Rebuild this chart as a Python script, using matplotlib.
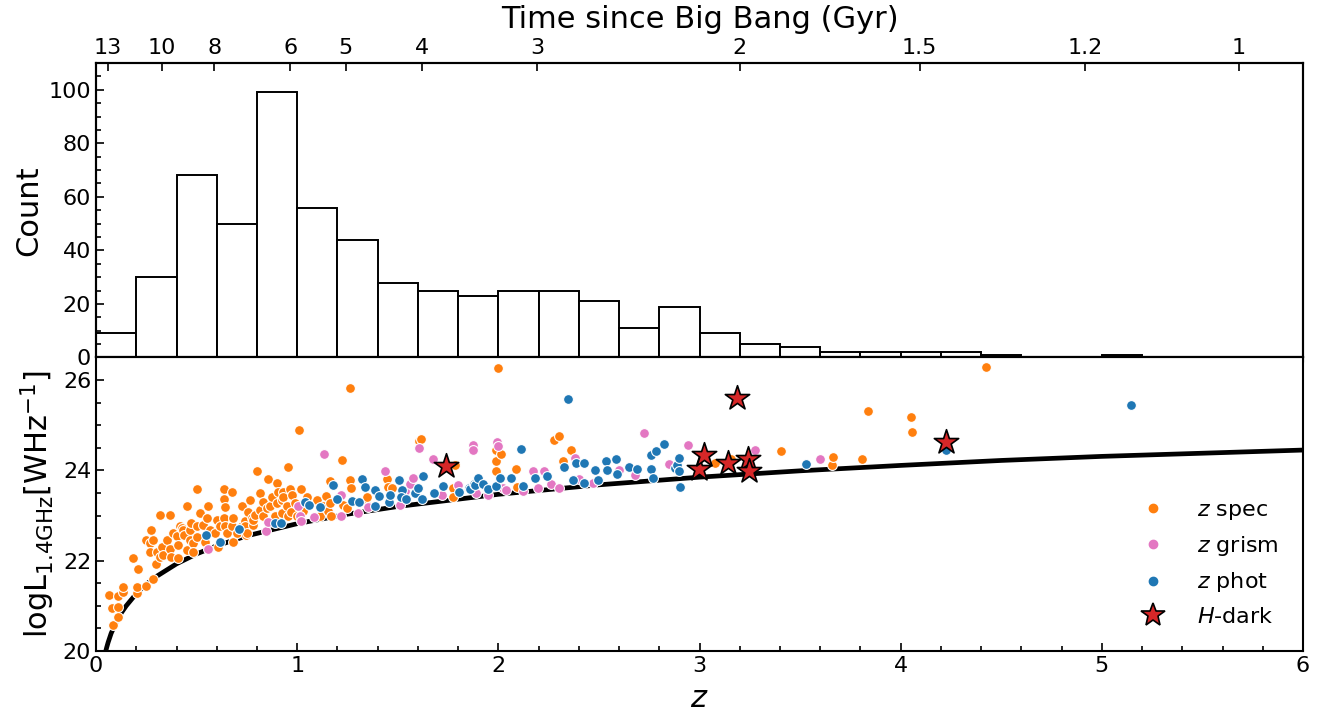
import numpy as np
import matplotlib
matplotlib.use("Agg")
import matplotlib.pyplot as plt
from matplotlib.lines import Line2D
from matplotlib.ticker import MultipleLocator, AutoMinorLocator

plt.rcParams['font.family'] = ['DejaVu Sans']
plt.rcParams['axes.linewidth'] = 1.5

# ---------------- histogram (bins of 0.2 in z) ----------------
hist_bin_lo = [0.0, 0.2, 0.4, 0.6, 0.8, 1.0, 1.2, 1.4, 1.6, 1.8, 2.0, 2.2, 2.4,
               2.6, 2.8, 3.0, 3.2, 3.4, 3.6, 3.8, 4.0, 4.2, 4.4, 4.6, 4.8, 5.0]
hist_counts = [9, 30, 68, 50, 99, 56, 44, 28, 25, 23, 25, 25, 21,
               11, 19, 9, 5, 4, 2, 2, 2, 2, 1, 0, 0, 1]
hist_width = 0.2

# ---------------- z spec ----------------
spec_z = [0.066, 0.078, 0.086, 0.111, 0.111, 0.111, 0.132, 0.136, 0.185, 0.202, 0.202, 0.207,
          0.248, 0.248, 0.268, 0.268, 0.273, 0.285, 0.285, 0.298, 0.301, 0.318, 0.318, 0.326,
          0.334, 0.351, 0.368, 0.368, 0.373, 0.384, 0.404, 0.409, 0.409, 0.417, 0.426, 0.434,
          0.437, 0.450, 0.450, 0.467, 0.467, 0.472, 0.484, 0.484, 0.500, 0.500, 0.503, 0.517,
          0.533, 0.541, 0.553, 0.558, 0.566, 0.591, 0.599, 0.608, 0.616, 0.636, 0.636, 0.639,
          0.636, 0.641, 0.649, 0.674, 0.677, 0.679, 0.682, 0.699, 0.724, 0.724, 0.740, 0.740,
          0.745, 0.748, 0.757, 0.765, 0.773, 0.782, 0.782, 0.790, 0.798, 0.815, 0.815, 0.831,
          0.831, 0.848, 0.856, 0.864, 0.873, 0.889, 0.898, 0.901, 0.906, 0.922, 0.922, 0.931,
          0.931, 0.947, 0.955, 0.955, 0.964, 0.969, 0.972, 0.989, 0.997, 1.010, 1.017, 1.030,
          1.047, 1.096, 1.113, 1.129, 1.143, 1.154, 1.162, 1.162, 1.166, 1.224, 1.229, 1.245,
          1.262, 1.263, 1.265, 1.341, 1.345, 1.444, 1.452, 1.469, 1.606, 1.613, 1.775, 1.784,
          1.775, 1.987, 1.987, 1.990, 1.997, 2.015, 2.090, 2.093, 2.275, 2.302, 2.321, 2.363,
          3.075, 3.157, 3.406, 3.656, 3.661, 3.808, 3.835, 4.051, 4.056, 4.426]
spec_L = [21.24, 20.96, 20.57, 20.76, 20.98, 21.21, 21.31, 21.42, 22.05, 21.28, 21.42, 21.81,
          22.46, 21.45, 22.40, 22.20, 22.68, 22.46, 21.59, 21.93, 22.20, 22.09, 23.02, 22.31,
          22.13, 22.46, 22.25, 23.02, 22.09, 22.61, 22.55, 22.05, 22.35, 22.76, 22.72, 22.68,
          22.57, 22.24, 23.20, 22.68, 22.46, 22.84, 22.39, 22.20, 22.76, 23.58, 22.53, 23.05,
          22.79, 22.42, 22.94, 23.22, 22.68, 22.61, 22.90, 22.31, 22.76, 23.58, 23.36, 23.19,
          22.94, 22.76, 22.61, 22.76, 23.51, 22.42, 22.94, 22.61, 22.76, 23.20, 22.87, 22.76,
          22.57, 22.61, 23.07, 23.35, 22.94, 22.79, 22.90, 23.02, 23.98, 23.13, 23.50, 23.31,
          22.98, 23.16, 23.81, 23.20, 23.42, 22.98, 23.27, 23.72, 23.53, 23.35, 23.05, 23.53,
          23.41, 23.20, 22.98, 24.07, 23.59, 23.07, 23.46, 23.27, 22.98, 24.89, 23.59, 23.09,
          23.42, 23.35, 22.98, 23.20, 23.44, 23.09, 23.76, 23.27, 23.00, 24.22, 23.24, 23.16,
          23.79, 25.83, 23.61, 23.35, 23.42, 23.82, 23.63, 23.61, 24.64, 24.69, 23.61, 24.12,
          23.42, 24.46, 23.98, 24.20, 26.26, 24.36, 24.02, 23.64, 24.67, 24.76, 24.20, 24.46,
          24.16, 24.26, 24.44, 24.13, 24.30, 24.25, 25.32, 25.19, 24.85, 26.30]

# ---------------- z grism ----------------
grism_z = [0.558, 0.845, 0.853, 1.002, 1.013, 1.017, 1.083, 1.134, 1.220, 1.220, 1.300, 1.353,
           1.436, 1.510, 1.535, 1.560, 1.576, 1.606, 1.676, 1.720, 1.800, 1.874, 1.876, 1.891,
           1.950, 1.994, 1.997, 2.023, 2.040, 2.120, 2.172, 2.197, 2.225, 2.260, 2.300, 2.379,
           2.400, 2.470, 2.600, 2.680, 2.722, 2.850, 2.942, 3.276, 3.599]
grism_L = [22.25, 22.65, 22.85, 23.20, 22.99, 22.87, 22.96, 24.36, 22.98, 23.46, 23.05, 23.18,
           23.98, 23.24, 23.55, 23.70, 23.83, 24.50, 24.26, 23.45, 23.68, 24.57, 24.45, 23.50,
           23.45, 24.62, 24.55, 23.61, 23.57, 23.55, 23.98, 23.61, 23.98, 23.70, 23.62, 24.27,
           23.80, 23.72, 24.00, 23.90, 24.83, 24.15, 24.56, 24.45, 24.25]

# ---------------- z phot ----------------
phot_z = [0.545, 0.616, 0.712, 0.889, 0.917, 1.038, 1.058, 1.113, 1.176, 1.199, 1.270, 1.308,
          1.320, 1.336, 1.386, 1.389, 1.408, 1.458, 1.461, 1.507, 1.519, 1.518, 1.543, 1.585,
          1.601, 1.621, 1.626, 1.681, 1.725, 1.805, 1.855, 1.858, 1.878, 1.883, 1.899, 1.924,
          1.949, 1.990, 2.007, 2.065, 2.111, 2.120, 2.181, 2.241, 2.326, 2.347, 2.371, 2.388,
          2.426, 2.426, 2.479, 2.496, 2.537, 2.540, 2.587, 2.590, 2.650, 2.689, 2.757, 2.757,
          2.769, 2.782, 2.822, 2.880, 2.890, 2.900, 2.898, 2.904, 3.528, 4.224, 5.144]
phot_L = [22.57, 22.42, 22.70, 22.83, 22.83, 23.31, 23.24, 23.18, 23.68, 23.37, 23.33, 23.31,
          23.81, 23.63, 23.57, 23.22, 23.44, 23.29, 23.46, 23.78, 23.57, 23.42, 23.37, 23.50,
          23.61, 23.37, 23.87, 23.50, 23.66, 23.51, 23.62, 23.58, 23.70, 23.68, 23.83, 23.70,
          23.59, 23.65, 23.83, 23.83, 24.48, 23.66, 23.83, 23.87, 24.08, 25.59, 23.79, 24.16,
          24.16, 23.72, 24.00, 23.79, 24.20, 24.00, 24.25, 23.93, 24.07, 24.02, 24.03, 24.35,
          23.83, 24.44, 24.59, 24.05, 24.12, 23.98, 24.28, 23.63, 24.15, 24.45, 25.45]

# ---------------- H-dark ----------------
hdark_z = [1.739, 2.997, 3.022, 3.141, 3.187, 3.241, 3.244, 4.224]
hdark_L = [24.10, 24.03, 24.33, 24.16, 25.60, 24.26, 23.99, 24.62]

# ---------------- detection-limit curve ----------------
limit_z = [0.045, 0.053, 0.06, 0.075, 0.1, 0.125, 0.15, 0.2, 0.25, 0.3, 0.4, 0.5, 0.6, 0.75,
           1.0, 1.25, 1.5, 2.0, 2.5, 3.0, 3.5, 4.0, 4.5, 5.0, 5.5, 6.0]
limit_L = [19.94, 20.08, 20.19, 20.39, 20.64, 20.84, 21.00, 21.27, 21.48, 21.65, 21.93, 22.15,
           22.33, 22.55, 22.82, 23.03, 23.20, 23.47, 23.68, 23.85, 23.99, 24.11, 24.22, 24.31,
           24.38, 24.45]

# ---------------- top axis ----------------
age_ticks = [13, 10, 8, 6, 5, 4, 3, 2, 1.5, 1.2, 1]
age_labels = ['13', '10', '8', '6', '5', '4', '3', '2', '1.5', '1.2', '1']

# flat LCDM (Planck-like) age-redshift relation for the top axis
H0, Om = 67.7, 0.31
OL = 1 - Om
t_H = 977.8 / H0
zgrid = np.linspace(0, 8, 4001)
age_grid = (2 * t_H / (3 * np.sqrt(OL))) * np.arcsinh(np.sqrt(OL / Om) * (1 + zgrid) ** -1.5)
age_tick_z = np.interp(age_ticks, age_grid[::-1], zgrid[::-1])

c_spec = '#ff7f0e'
c_grism = '#e377c2'
c_phot = '#1f77b4'
c_star = '#d62728'

fig = plt.figure(figsize=(13.34, 7.12), dpi=100)
L, R = 0.0720, 0.9768
ax_h = fig.add_axes([L, 0.4979, R - L, 0.9115 - 0.4979])
ax_s = fig.add_axes([L, 0.0857, R - L, 0.4979 - 0.0857], sharex=ax_h)

# histogram
ax_h.bar(hist_bin_lo, hist_counts, width=hist_width, align='edge',
         color='white', edgecolor='black', linewidth=1.4)
ax_h.set_ylim(0, 110)
ax_h.set_xlim(0, 6)
ax_h.set_ylabel('Count', fontsize=22)
ax_h.yaxis.set_major_locator(MultipleLocator(20))
ax_h.yaxis.set_minor_locator(AutoMinorLocator(4))
ax_h.tick_params(axis='y', which='both', direction='in', labelsize=16, width=1.2)
ax_h.tick_params(axis='y', which='major', length=6)
ax_h.tick_params(axis='y', which='minor', length=3.5)
ax_h.tick_params(axis='x', which='both', bottom=False, labelbottom=False)

ax_t = ax_h.twiny()
ax_t.set_xlim(0, 6)
ax_t.set_xticks(age_tick_z)
ax_t.set_xticklabels(age_labels)
ax_t.tick_params(axis='x', direction='in', labelsize=16, width=1.2, length=6)
ax_t.set_xlabel('Time since Big Bang (Gyr)', fontsize=22, labelpad=7)

# scatter
sc_kw = dict(s=50, edgecolors='white', linewidths=0.8, zorder=3)
ax_s.scatter(spec_z, spec_L, color=c_spec, **sc_kw)
ax_s.scatter(grism_z, grism_L, color=c_grism, **sc_kw)
ax_s.scatter(phot_z, phot_L, color=c_phot, **sc_kw)
ax_s.scatter(hdark_z, hdark_L, marker='*', s=340, color=c_star, edgecolors='black',
             linewidths=1.2, zorder=4)
ax_s.plot(limit_z, limit_L, color='black', lw=3.4, zorder=2, solid_capstyle='butt')

ax_s.set_xlim(0, 6)
ax_s.set_ylim(20, 26.5)
ax_s.xaxis.set_major_locator(MultipleLocator(1))
ax_s.xaxis.set_minor_locator(MultipleLocator(0.2))
ax_s.yaxis.set_major_locator(MultipleLocator(2))
ax_s.yaxis.set_minor_locator(MultipleLocator(0.5))
ax_s.tick_params(which='both', direction='in', labelsize=16, width=1.2)
ax_s.tick_params(which='major', length=6)
ax_s.tick_params(which='minor', length=3.5)
ax_s.set_xlabel('$z$', fontsize=22, labelpad=6)
ax_s.set_ylabel(r'$\rm logL_{1.4GHz}[WHz^{-1}]$', fontsize=22)

handles = [
    Line2D([], [], ls='', marker='o', color=c_spec, markersize=6),
    Line2D([], [], ls='', marker='o', color=c_grism, markersize=6),
    Line2D([], [], ls='', marker='o', color=c_phot, markersize=6),
    Line2D([], [], ls='', marker='*', markerfacecolor=c_star, markeredgecolor='black',
           markeredgewidth=1.2, markersize=18),
]
labels = ['$z$ spec', '$z$ grism', '$z$ phot', '$H$-dark']
ax_s.legend(handles, labels, loc='lower right', frameon=False, fontsize=16,
            labelspacing=0.55, handletextpad=1.0, borderaxespad=0.7)

fig.align_ylabels([ax_h, ax_s])
fig.savefig('out.png', dpi=100)
